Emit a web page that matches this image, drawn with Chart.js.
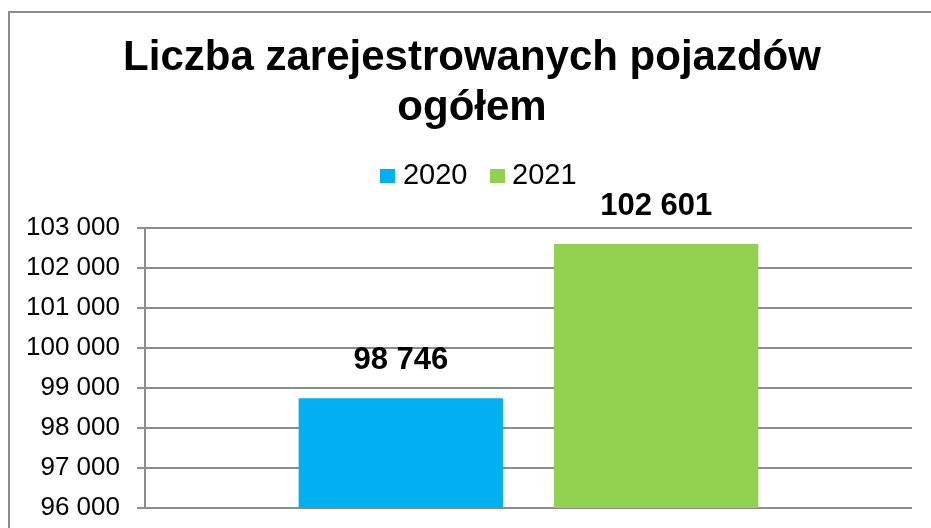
<!DOCTYPE html>
<html>
<head>
<meta charset="utf-8">
<script src="https://cdn.jsdelivr.net/npm/chart.js@4"></script>
<style>
  html, body { margin: 0; padding: 0; background: #ffffff; }
  #wrap { position: relative; width: 931px; height: 528px; }
</style>
</head>
<body>
<div id="wrap"><canvas id="c" width="931" height="528"></canvas></div>
<script>
const titleLines = ["Liczba zarejestrowanych pojazdów", "ogółem"];
const categories = [""];
const seriesNames = ["2020", "2021"];
const values2020 = [98746];
const values2021 = [102601];
const seriesColors = ["#00B0F0", "#92D050"];
const yMin = 96000, yMax = 103000, yStep = 1000;

function fmt(v) {
  return String(Math.round(v)).replace(/\B(?=(\d{3})+(?!\d))/g, " ");
}

const FONT = "'Liberation Sans', Arial, sans-serif";
const GRID = "#8c8c8c";

// legend marker: a small filled square image
function squareMarker(color) {
  const cv = document.createElement("canvas");
  cv.width = 15; cv.height = 14;
  const c = cv.getContext("2d");
  c.fillStyle = color;
  c.fillRect(0, 0, 15, 14);
  return cv;
}

const framePlugin = {
  id: "frame",
  afterInit(chart) {
    const lg = chart.legend;
    if (lg && !lg._patched) {
      const origFit = lg.fit;
      lg.fit = function () { origFit.call(this); this.height += 22; };
      const origDraw = lg.draw;
      lg.draw = function () {
        const ctx = this.ctx;
        ctx.save(); ctx.translate(26, -5);
        origDraw.apply(this, arguments);
        ctx.restore();
      };
      lg._patched = true;
    }
    const tb = chart.titleBlock;
    if (tb && !tb._patched) {
      const origDraw = tb.draw;
      tb.draw = function () {
        const ctx = this.ctx;
        ctx.save(); ctx.translate(16, 0);
        origDraw.apply(this, arguments);
        ctx.restore();
      };
      tb._patched = true;
    }
  },
  beforeDraw(chart) {
    const ctx = chart.ctx;
    ctx.save();
    ctx.fillStyle = "#ffffff";
    ctx.fillRect(0, 0, chart.width, chart.height);
    ctx.strokeStyle = "#8c8c8c";
    ctx.lineWidth = 2;
    ctx.beginPath();
    ctx.moveTo(9, chart.height + 5);
    ctx.lineTo(9, 12);
    ctx.lineTo(chart.width + 5, 12);
    ctx.stroke();
    ctx.restore();
  }
};

const labelPlugin = {
  id: "valueLabels",
  afterDatasetsDraw(chart) {
    const ctx = chart.ctx;
    ctx.save();
    ctx.font = "bold 31px " + FONT;
    ctx.fillStyle = "#000000";
    ctx.textAlign = "center";
    ctx.textBaseline = "middle";
    chart.data.datasets.forEach((ds, di) => {
      const meta = chart.getDatasetMeta(di);
      meta.data.forEach((bar, i) => {
        ctx.fillText(fmt(ds.data[i]), bar.x, bar.y - 37.5);
      });
    });
    ctx.restore();
  }
};

new Chart(document.getElementById("c"), {
  type: "bar",
  data: {
    labels: categories,
    datasets: [
      { label: seriesNames[0], data: values2020, backgroundColor: seriesColors[0], borderWidth: 0, pointStyle: squareMarker(seriesColors[0]) },
      { label: seriesNames[1], data: values2021, backgroundColor: seriesColors[1], borderWidth: 0, pointStyle: squareMarker(seriesColors[1]) }
    ]
  },
  options: {
    responsive: false,
    animation: false,
    devicePixelRatio: 1,
    layout: { padding: { left: 0, right: 19, top: 0, bottom: 20 } },
    categoryPercentage: 0.666,
    barPercentage: 0.80,
    plugins: {
      tooltip: { enabled: false },
      title: {
        display: true,
        text: titleLines,
        color: "#000000",
        font: { family: FONT, size: 42, weight: "bold", lineHeight: 1.19 },
        padding: { top: 33, bottom: 5 }
      },
      legend: {
        display: true,
        position: "top",
        labels: {
          color: "#000000",
          font: { family: FONT, size: 29 },
          usePointStyle: true,
          boxWidth: 1,
          boxHeight: 14,
          padding: 29
        }
      }
    },
    scales: {
      x: {
        display: false,
        grid: { display: false }
      },
      y: {
        min: yMin,
        max: yMax,
        afterFit(scale) {
          scale.width = 145;
          scale.paddingTop = 0;
          scale.paddingBottom = 0;
        },
        ticks: {
          stepSize: yStep,
          color: "#000000",
          font: { family: FONT, size: 26 },
          padding: 17,
          callback: (v) => fmt(v)
        },
        grid: { color: GRID, lineWidth: 2, tickLength: 8, drawTicks: true },
        border: { display: true, color: GRID, width: 2 }
      }
    }
  },
  plugins: [framePlugin, labelPlugin]
});
</script>
</body>
</html>
